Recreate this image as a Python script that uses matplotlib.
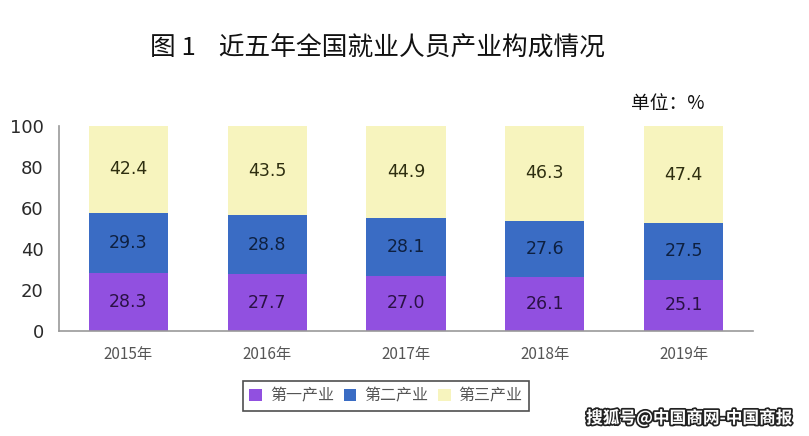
import matplotlib
matplotlib.use("Agg")
import matplotlib.pyplot as plt
import matplotlib.patheffects as pe
import numpy as np

years = ["2015年", "2016年", "2017年", "2018年", "2019年"]
primary = [28.3, 27.7, 27.0, 26.1, 25.1]
secondary = [29.3, 28.8, 28.1, 27.6, 27.5]
tertiary = [42.4, 43.5, 44.9, 46.3, 47.4]
series_names = ["第一产业", "第二产业", "第三产业"]
colors = ["#9150E0", "#3A6CC4", "#F7F4BE"]
text_colors = ["#2A1145", "#0E2040", "#2E2E10"]
yticks = [0, 20, 40, 60, 80, 100]

plt.rcParams['font.family'] = ['Noto Sans CJK SC', 'DejaVu Sans']

fig = plt.figure(figsize=(8.09, 4.36), dpi=100)
ax = fig.add_axes([59/809, 1-331/436, (753-59)/809, (331-126)/436])

x = np.arange(len(years))
bottom = np.zeros(len(years))
handles = []
for vals, c, tc, name in zip([primary, secondary, tertiary], colors, text_colors, series_names):
    bars = ax.bar(x, vals, width=0.57, bottom=bottom, color=c, label=name)
    handles.append(bars)
    for xi, b, v in zip(x, bottom, vals):
        ax.text(xi, b + v/2, f"{v:.1f}", ha='center', va='center',
                fontsize=12.5, color=tc, family='DejaVu Sans')
    bottom = bottom + np.array(vals)

ax.set_xlim(-0.5, 4.5)
ax.set_ylim(0, 100)
ax.set_yticks(yticks)
ax.set_yticklabels([str(t) for t in yticks], family='DejaVu Sans', fontsize=13, color='#2a2a2a')
ax.set_xticks(x)
ax.set_xticklabels(years, fontsize=11, color='#555555')
ax.tick_params(axis='x', length=0, pad=11)
ax.tick_params(axis='y', length=0, pad=11)
for s in ['top', 'right']:
    ax.spines[s].set_visible(False)
for s in ['left', 'bottom']:
    ax.spines[s].set_color('#999999')
    ax.spines[s].set_linewidth(1.2)

fig.text(378/809, 1-48/436, "图 1    近五年全国就业人员产业构成情况", ha='center', va='center',
         fontsize=18.5, color='#111111')
fig.text(668/809, 1-103/436, "单位：%", ha='center', va='center', fontsize=13.5, color='#111111')

leg = fig.legend(handles=handles, labels=series_names, loc='center', bbox_to_anchor=(386/809, 1-396/436),
                 ncol=3, frameon=True, fontsize=11.5, handlelength=0.8, handleheight=0.8,
                 handletextpad=0.5, columnspacing=0.6, borderpad=0.4, fancybox=False)
leg.get_frame().set_edgecolor('#222222')
leg.get_frame().set_linewidth(1.2)
for t in leg.get_texts():
    t.set_color('#555555')

fig.text(689/809, 1-418/436, "搜狐号@中国商网-中国商报", ha='center', va='center', fontsize=12,
         color='white', fontweight='bold',
         path_effects=[pe.withStroke(linewidth=2.5, foreground='#222222')])

fig.savefig("out.png", dpi=100)
